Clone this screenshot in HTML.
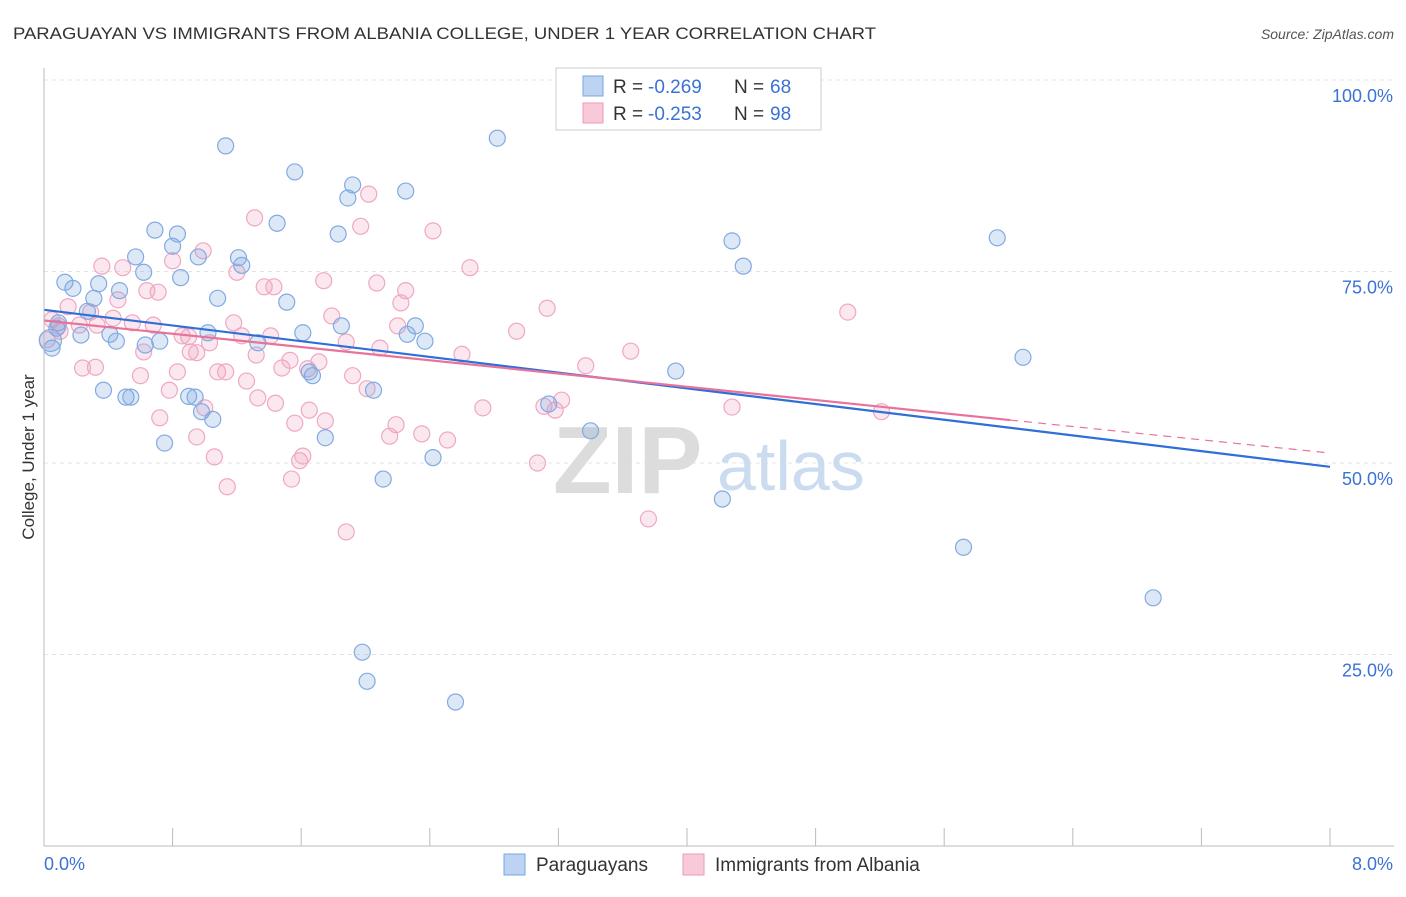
<!DOCTYPE html>
<html><head><meta charset="utf-8">
<style>
body{margin:0;background:#fff;font-family:"Liberation Sans",sans-serif;}
svg text{font-family:"Liberation Sans",sans-serif;}
</style></head>
<body>
<svg id="chart" width="1406" height="892" viewBox="0 0 1406 892" xmlns="http://www.w3.org/2000/svg">
<text x="13" y="39" font-size="17" fill="#333" textLength="863" lengthAdjust="spacingAndGlyphs">PARAGUAYAN VS IMMIGRANTS FROM ALBANIA COLLEGE, UNDER 1 YEAR CORRELATION CHART</text>
<text x="1394" y="39" font-size="14" fill="#555" text-anchor="end" font-style="italic">Source: ZipAtlas.com</text>
<g id="grid"></g>
<g>
<text x="553" y="493" font-size="96" fill="#dcdcdc" font-family="Liberation Serif,serif" font-weight="bold">ZIP</text>
<text x="717" y="490" font-size="70" fill="#ccdcf0">atlas</text>
</g>
<g id="pts"></g>
<g id="trends"></g>
<line x1="44" y1="68" x2="44" y2="846" stroke="#bbb"/>
<line x1="44" y1="846" x2="1394" y2="846" stroke="#bbb"/>
<g id="axes"></g>
<text transform="translate(34,457) rotate(-90)" font-size="17" fill="#333" text-anchor="middle">College, Under 1 year</text>
<g>
<rect x="556" y="68" width="265" height="62" fill="#fff" stroke="#ccc"/>
<rect x="583" y="76" width="20" height="20" fill="#bcd3f2" stroke="#7aa6e0"/>
<rect x="583" y="103" width="20" height="20" fill="#f8c9d8" stroke="#ec9ab6"/>
<text x="613" y="93" font-size="19" fill="#333">R =</text>
<text x="648" y="93" font-size="19" fill="#3a72d6">-0.269</text>
<text x="734" y="93" font-size="19" fill="#333">N =</text>
<text x="770" y="93" font-size="19" fill="#3a72d6">68</text>
<text x="613" y="120" font-size="19" fill="#333">R =</text>
<text x="648" y="120" font-size="19" fill="#3a72d6">-0.253</text>
<text x="734" y="120" font-size="19" fill="#333">N =</text>
<text x="770" y="120" font-size="19" fill="#3a72d6">98</text>
</g>
<g>
<rect x="504" y="854" width="21" height="21" fill="#bcd3f2" stroke="#7aa6e0"/>
<text x="536" y="871" font-size="19" fill="#333">Paraguayans</text>
<rect x="683" y="854" width="21" height="21" fill="#f8c9d8" stroke="#ec9ab6"/>
<text x="715" y="871" font-size="19" fill="#333">Immigrants from Albania</text>
</g>
</svg>
<script>
const blueX=[1.13,1.56,2.82,1.92,1.89,2.25,1.45,1.83,0.69,0.83,0.80,0.96,1.21,1.23,0.57,0.62,0.85,0.13,0.18,0.34,0.47,0.31,1.08,1.51,0.27,0.09,0.41,0.23,0.45,1.02,1.61,1.85,2.31,2.26,2.37,0.72,0.63,1.33,0.08,0.05,0.37,0.51,0.54,0.90,0.94,0.98,1.05,1.67,1.65,2.05,0.75,1.75,2.42,2.11,3.14,3.40,3.93,4.28,4.35,5.93,6.09,4.22,5.72,6.90,1.98,2.01,2.56,0.04];
const blueY=[91.4,88.0,92.4,86.3,84.6,85.5,81.3,79.9,80.4,79.9,78.3,76.9,76.8,75.8,76.9,74.9,74.2,73.6,72.8,73.4,72.5,71.5,71.5,71.0,69.8,68.3,66.8,66.7,65.9,67.0,67.0,67.9,67.9,66.8,65.9,65.9,65.4,65.7,67.6,65.0,59.5,58.6,58.6,58.7,58.6,56.7,55.7,61.4,61.9,59.5,52.6,53.3,50.7,47.9,57.7,54.2,62.0,79.0,75.7,79.4,63.8,45.3,39.0,32.4,25.3,21.5,18.8,66.0];
const pinkX=[1.31,2.02,1.97,2.42,0.99,0.80,0.36,0.49,1.20,1.37,1.43,1.74,2.07,2.65,2.25,2.22,0.64,0.71,0.46,0.15,0.29,0.43,0.55,0.68,1.79,2.20,3.13,2.94,5.00,1.18,1.23,1.41,0.86,0.90,1.03,1.88,2.09,0.09,0.10,0.22,0.33,0.62,0.91,0.95,1.32,1.53,1.71,2.60,3.65,3.37,0.32,0.24,0.60,0.83,1.08,1.13,1.26,1.48,1.64,1.92,2.01,0.78,1.33,1.44,1.65,1.56,1.75,2.19,2.73,3.11,3.18,3.22,4.28,5.21,0.72,1.00,0.95,2.15,2.35,2.51,1.06,1.59,1.61,1.14,1.54,3.07,3.76,1.88,0.05,0.02];
const pinkY=[82.0,85.1,80.9,80.3,77.7,76.4,75.7,75.5,74.9,73.0,73.0,73.8,73.5,75.5,72.5,70.9,72.5,72.3,71.3,70.4,69.7,68.9,68.3,68.0,69.2,67.9,70.2,67.2,69.7,68.3,66.6,66.6,66.6,66.5,65.7,65.8,65.0,67.9,67.2,68.0,68.0,64.5,64.5,64.4,64.1,63.4,63.2,64.2,64.6,62.7,62.5,62.4,61.4,61.9,61.9,61.9,60.7,62.4,62.3,61.4,59.7,59.5,58.5,57.8,56.9,55.2,55.5,55.0,57.2,57.4,56.9,58.2,57.3,56.7,55.9,57.2,53.4,53.5,53.8,53.0,50.8,50.3,50.9,46.9,47.9,50.0,42.7,41.0,68.7,66.1];
const trendIntercept=[70.0,68.6];
const trendEnd=[49.5,51.3];
const pinkSolidEndX=6.01;
const yTicks=[25,50,75,100];
const xTickLabels=["0.0%","8.0%"];

const NS="http://www.w3.org/2000/svg";
const sx=v=>44+v/8*1286;
const sy=v=>846-v/100*766;
function mk(tag,attrs,parent){const e=document.createElementNS(NS,tag);for(const k in attrs)e.setAttribute(k,attrs[k]);parent.appendChild(e);return e;}
const grid=document.getElementById('grid'),axes=document.getElementById('axes');
yTicks.forEach(t=>{
  const l=mk('line',{x1:44,x2:1394,y1:sy(t),y2:sy(t),stroke:'#e4e4e4','stroke-dasharray':'4,4'},grid);
  
  
  const tx=mk('text',{x:1393,y:sy(t)+22,'font-size':18,fill:'#3a72d6','text-anchor':'end'},axes);
  tx.textContent=t.toFixed(1)+'%';
  
  
});
for(let i=0;i<=10;i++){
  const x=sx(i*0.8);
  const tk=mk('line',{x1:x,x2:x,y1:828,y2:846,stroke:'#bbb'},axes);
  
  
}
const xl0=mk('text',{x:44,y:870,'font-size':18,fill:'#3a72d6'},axes);
xl0.textContent=xTickLabels[0];


const xl1=mk('text',{x:1393,y:870,'font-size':18,fill:'#3a72d6','text-anchor':'end'},axes);
xl1.textContent=xTickLabels[1];



const pts=document.getElementById('pts');
pinkX.forEach((x,i)=>{
  const c=mk('circle',{cx:sx(x),cy:sy(pinkY[i]),r:8,fill:'rgba(240,160,190,0.25)',stroke:'#efa8c0','stroke-width':1.2},pts);
  
  
});
blueX.forEach((x,i)=>{
  const c=mk('circle',{cx:sx(x),cy:sy(blueY[i]),r:(i==blueX.length-1?11:8),fill:'rgba(120,165,225,0.25)',stroke:'#82aae2','stroke-width':1.2},pts);
  
  
});
const tr=document.getElementById('trends');
const bl=mk('line',{x1:sx(0),y1:sy(trendIntercept[0]),x2:sx(8),y2:sy(trendEnd[0]),stroke:'#2f6fd6','stroke-width':2.2},tr);


const pm=trendIntercept[1]+(trendEnd[1]-trendIntercept[1])*pinkSolidEndX/8;
const pl=mk('line',{x1:sx(0),y1:sy(trendIntercept[1]),x2:sx(pinkSolidEndX),y2:sy(pm),stroke:'#e8739a','stroke-width':2.2},tr);


const pd=mk('line',{x1:sx(pinkSolidEndX),y1:sy(pm),x2:sx(8),y2:sy(trendEnd[1]),stroke:'#e8739a','stroke-width':1.2,'stroke-dasharray':'8,6'},tr);


</script>
</body></html>
